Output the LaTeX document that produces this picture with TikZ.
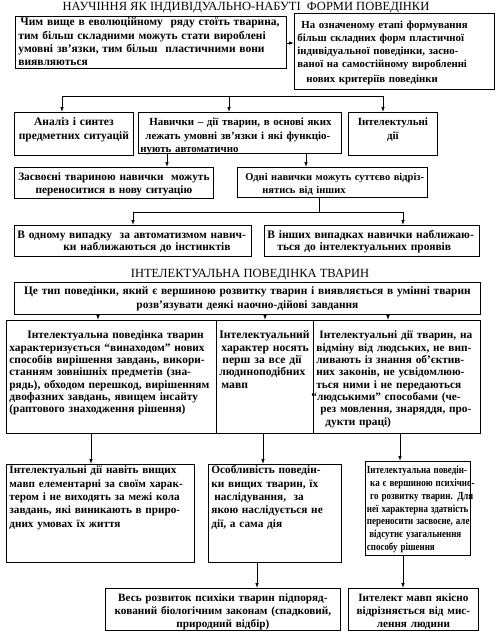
\documentclass[tikz,border=0pt]{standalone}
\usepackage{fontspec}
\setmainfont{Liberation Serif}
\usetikzlibrary{arrows.meta}
% lines of a box, never rewrapped
\newcommand{\lns}[1]{\begin{tabular}[t]{@{}l@{}}#1\end{tabular}}
\newcommand{\clns}[1]{\begin{tabular}[t]{@{}c@{}}#1\end{tabular}}

\begin{document}
\begin{tikzpicture}[x=1pt, y=-1pt, line width=0.8pt,
  box/.style 2 args = {draw, anchor=north west, inner xsep=3pt, inner ysep=2pt,
    font=\fontsize{#1}{#2}\selectfont\bfseries},
  head/.style = {font=\fontsize{12.5}{14}\selectfont},
  arr/.style = {-{Latex[length=5pt, width=3.5pt]}}]
\useasboundingbox (0,0) rectangle (498,637);

% learning part
\node[head] (t1) at (246,8) {НАУЧІННЯ ЯК ІНДИВІДУАЛЬНО-НАБУТІ \ ФОРМИ ПОВЕДІНКИ};
\node[box={11.5}{13.3}, text width=265pt, text height=7.5pt, text depth=40.5pt, align=left] (a) at (15,16)
  {\lns{\hspace*{2pt}Чим вище в еволюційному \ ряду стоїть тварина,\\ тим більш складними можуть стати вироблені\\ умовні зв’язки, тим більш \ пластичними вони\\ виявляються}};
\node[box={10.8}{13}, text width=194pt, text height=13.5pt, text depth=58.5pt, align=left] (b) at (294,13)
  {\lns{\hspace*{4pt}На означеному етапі формування\\ більш складних форм пластичної\\ індивідуальної поведінки, засно-\\ваної на самостійному виробленні\\[2pt] \hspace*{9pt}нових критеріїв поведінки}};
\draw[arr] (a.east |- 0,43) -- (b.west |- 0,43);

\node[box={11.5}{13.3}, text width=113pt, text height=11.5pt, text depth=27.5pt, align=center] (r1) at (14,112)
  {\clns{Аналіз і синтез\\ предметних ситуацій}};
\node[box={10.9}{13.3}, inner xsep=2pt, text width=199pt, text height=11.5pt, text depth=25.5pt, align=left] (r2) at (138,112)
  {\lns{\hspace*{9pt}Навички – дії тварин, в основі яких\\ \hspace*{5pt}лежать умовні зв’язки і які функціо-\\нують автоматично}};
\node[box={11}{13.3}, text width=83pt, text height=11.5pt, text depth=27.5pt, align=center] (r3) at (348,112)
  {\clns{Інтелектульні\\ дії}};
\coordinate (busl) at (62,96);
\coordinate (busm) at (229,96);
\coordinate (busr) at (383,96);
\draw (busl) -- (busr);
\draw[arr] (busl) -- (busl |- r1.north);
\draw[arr] (busm) -- (busm |- r2.north);
\draw[arr] (busr) -- (busr |- r3.north);

\node[box={11.3}{13}, text width=193pt, text height=11.5pt, text depth=15.5pt, align=center] (s1) at (14,167)
  {\clns{Засвоєні твариною навички \ можуть\\ переноситися в нову ситуацію}};
\node[box={10.5}{13}, inner xsep=2pt, text width=186pt, text height=11.5pt, text depth=14.5pt, align=left] (s2) at (237,167)
  {\lns{\hspace*{6pt}Одні навички можуть суттєво відріз-\\ \hspace*{23pt}нятись від інших}};
\draw[arr] (167,0 |- r2.south) -- (167,0 |- s1.north);
\draw[arr] (306,0 |- r2.south) -- (306,0 |- s2.north);

\node[box={11.4}{12}, text width=231pt, text height=11.5pt, text depth=15.5pt, align=left] (u1) at (14,225)
  {\lns{В одному випадку \ за автоматизмом навич-\\ \hspace*{46pt}ки наближаються до інстинктів}};
\node[box={11.5}{12}, text width=209pt, text height=11.5pt, text depth=15.5pt, align=left] (u2) at (264,225)
  {\lns{В інших випадках навички наближаю-\\ \hspace*{10pt}ться до інтелектуальних проявів}};
\coordinate (split) at (319,212);
\draw (split |- s2.south) -- (split);
\draw[arr] (split) -| (133,0 |- u1.north);
\draw[arr] (split) -| (403,0 |- u2.north);

% intellect part
\node[head] (t2) at (250,275) {ІНТЕЛЕКТУАЛЬНА ПОВЕДІНКА ТВАРИН};
\node[box={11.4}{14}, text width=460pt, text height=10pt, text depth=18pt, align=center] (c) at (14,282)
  {\clns{Це тип поведінки, який є вершиною розвитку тварин і виявляється в умінні тварин\\ розв’язувати деякі наочно-дійові завдання}};

\node[box={11.4}{12.3}, text width=204pt, text height=16.5pt, text depth=92.5pt, align=left] (d1) at (6,320)
  {\lns{\hspace*{18pt}Інтелектуальна поведінка тварин\\ характеризується “винаходом” нових\\ способів вирішення завдань, викори-\\станням зовнішніх предметів (зна-\\рядь), обходом перешкод, вирішенням\\ двофазних завдань, явищем інсайту\\ (раптового знаходження рішення)}};
\node[box={11.6}{12.3}, text width=91pt, text height=16.5pt, text depth=92.5pt, align=left] (d2) at (216,320)
  {\lns{Інтелектуальний\\ \hspace*{2pt}характер носять\\ \hspace*{3pt}перш за все дії\\ людиноподібних\\ \hspace*{2pt}мавп}};
\node[box={11.3}{12.3}, text width=161pt, text height=16.5pt, text depth=92.5pt, align=left] (d3) at (313,320)
  {\lns{\hspace*{3pt}Інтелектуальні дії тварин, на\\ відміну від людських, не вип-\\ливають із знання об’єктив-\\них законів, не усвідомлюю-\\ться ними і не передаються\\ \hspace*{-5pt}“людськими” способами (че-\\ \hspace*{4pt}рез мовлення, знаряддя, про-\\ \hspace*{9pt}дукти праці)}};
\draw[arr] (98,0 |- c.south) -- (98,0 |- d1.north);
\draw[arr] (265,0 |- c.south) -- (265,0 |- d2.north);
\draw[arr] (388,0 |- c.south) -- (388,0 |- d3.north);

\node[box={11.2}{13.3}, text width=182pt, text height=7.5pt, text depth=86.5pt, align=left] (e1) at (6,464)
  {\lns{Інтелектуальні дії навіть вищих\\ мавп елементарні за своїм харак-\\тером і не виходять за межі кола\\ завдань, які виникають в приро-\\дних умовах їх життя}};
\node[box={11.3}{13.3}, text width=127pt, text height=7.5pt, text depth=86.5pt, align=left] (e2) at (208,464)
  {\lns{Особливість поведін-\\ки вищих тварин, їх\\ \hspace*{3pt}наслідування, \ за\\ якою наслідується не\\ дії, а сама дія}};
\node[box={10.8}{12.7}, inner xsep=1.5pt, text width=102pt, text height=10.5pt, text depth=79.5pt, align=left] (e3) at (365,461)
  {\scalebox{0.83}[1]{\lns{Інтелектуальна поведін-\\ \hspace*{4pt}ка є вершиною психічно-\\ \hspace*{4pt}го розвитку тварин. Для\\ неї характерна здатність\\ переносити засвоєне, але\\ \hspace*{3pt}відсутнє узагальнення\\ способу рішення}}};
\draw[arr] (91,0 |- d1.south) -- (91,0 |- e1.north);
\draw[arr] (263,0 |- d2.south) -- (263,0 |- e2.north);
\draw[arr] (400,0 |- d3.south) -- (400,0 |- e3.north);

\node[box={11.2}{13}, text width=229pt, text height=11.5pt, text depth=26.5pt, align=center] (f1) at (105,588)
  {\clns{Весь розвиток психіки тварин підпоряд-\\кований біологічним законам (спадковий,\\ природний відбір)}};
\node[box={11.2}{13}, text width=124pt, text height=11.5pt, text depth=26.5pt, align=center] (f2) at (348,588)
  {\clns{Інтелект мавп якісно\\ відрізняється від мис-\\лення людини}};
\draw[arr] (257,0 |- e2.south) -- (257,0 |- f1.north);
\draw[arr] (403,0 |- e3.south) -- (403,0 |- f2.north);
\end{tikzpicture}
\end{document}
